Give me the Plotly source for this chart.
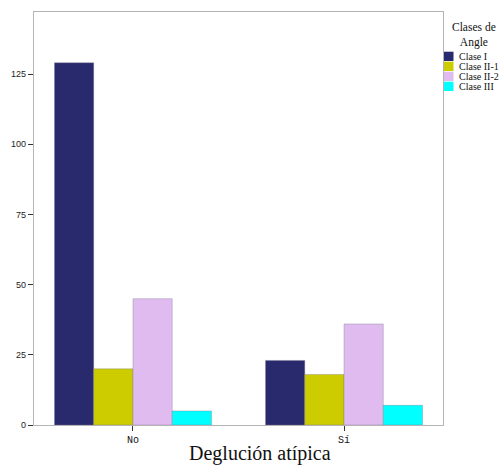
import plotly.graph_objects as go

# Deglución atípica vs. clase de Angle (recuentos)
categorias = ["No", "Sí"]
clases = ["Clase I", "Clase II-1", "Clase II-2", "Clase III"]
clase_i = [129, 23]
clase_ii_1 = [20, 18]
clase_ii_2 = [45, 36]
clase_iii = [5, 7]
colores = ["#29296e", "#cccc00", "#dfbbf0", "#00ffff"]
y_ticks = [0, 25, 50, 75, 100, 125]

series = [clase_i, clase_ii_1, clase_ii_2, clase_iii]

fig = go.Figure()
for nombre, valores, color in zip(clases, series, colores):
    fig.add_trace(go.Bar(
        x=categorias, y=valores, name=nombre,
        marker=dict(color=color, line=dict(color="rgba(120,120,140,0.6)", width=0.6)),
    ))

W, H = 501, 468
ML, MR, MT, MB = 34, 58, 12, 43
pw, ph = W - ML - MR, H - MT - MB


def px_x(px):
    return (px - ML) / pw


def px_y(py):
    return (H - MB - py) / ph


# Legend block at the right edge: title, then one swatch + label per class
shapes = []
annotations = [
    dict(text="Clases de<br>Angle", x=px_x(474), y=px_y(19), xref="paper", yref="paper",
         xanchor="center", yanchor="top", align="center", showarrow=False,
         font=dict(family="Liberation Serif", size=11.5, color="#111")),
]
for i, (nombre, color) in enumerate(zip(clases, colores)):
    top = 51.7 + 10 * i
    shapes.append(dict(type="rect", xref="paper", yref="paper",
                       x0=px_x(444), x1=px_x(453.5), y0=px_y(top), y1=px_y(top + 9.3),
                       fillcolor=color, line=dict(width=0)))
    annotations.append(dict(text=nombre, x=px_x(457), y=px_y(top + 4.8),
                            xref="paper", yref="paper", xanchor="left", yanchor="middle",
                            showarrow=False,
                            font=dict(family="Liberation Serif", size=10, color="#111")))

# Axis title
annotations.append(dict(text="Deglución atípica", x=px_x(260), y=px_y(453),
                        xref="paper", yref="paper", xanchor="center", yanchor="middle",
                        showarrow=False,
                        font=dict(family="Liberation Serif", size=20, color="#111")))

fig.update_layout(
    width=W, height=H,
    margin=dict(l=ML, r=MR, t=MT, b=MB, autoexpand=False),
    paper_bgcolor="white", plot_bgcolor="white",
    barmode="group", bargap=0.256, bargroupgap=0,
    showlegend=False,
    shapes=shapes, annotations=annotations,
    xaxis=dict(
        range=[-0.469, 1.469], showline=True, linecolor="#b4b4b4", linewidth=1.2,
        mirror=True, ticks="outside", ticklen=5, tickcolor="#333",
        tickfont=dict(family="Liberation Mono", size=10, color="#111"),
        showgrid=False, zeroline=False,
    ),
    yaxis=dict(
        range=[0, 147.1], showline=True, linecolor="#b4b4b4", linewidth=1.2,
        mirror=True, ticks="outside", ticklen=5, tickcolor="#333",
        tickvals=y_ticks,
        tickfont=dict(family="Liberation Sans", size=9, color="#222"),
        showgrid=False, zeroline=False,
    ),
)

fig.write_html("out.html")
